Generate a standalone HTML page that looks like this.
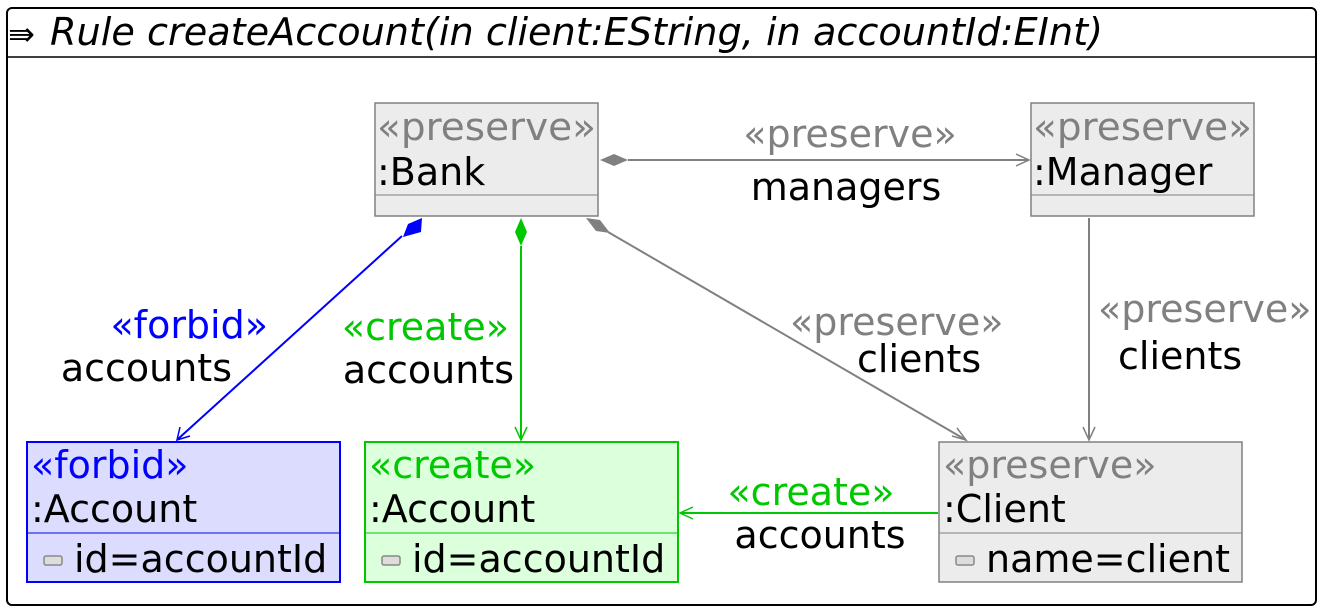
<!DOCTYPE html>
<html><head><meta charset="utf-8"><style>
html,body{margin:0;padding:0;background:#fff;}
svg{display:block;}
text{font-family:"DejaVu Sans","Liberation Sans",sans-serif;font-size:38px;}
.g{fill:#808080}.k{fill:#000}.b{fill:#0000ff}.gr{fill:#00c800}
</style></head><body>
<svg width="1327" height="612" viewBox="0 0 1327 612" xmlns="http://www.w3.org/2000/svg">
<rect x="7" y="8" width="1309" height="597" rx="5" fill="#fff" stroke="#000" stroke-width="2"/>
<line x1="7" y1="57" x2="1316" y2="57" stroke="#000" stroke-width="1.5"/>
<text x="8" y="45" style="font-size:32px">⇛</text>
<text x="50" y="45" font-style="italic" textLength="1053" lengthAdjust="spacingAndGlyphs">Rule createAccount(in client:EString, in accountId:EInt)</text>

<!-- Bank -->
<rect x="375" y="103" width="223" height="113" fill="#ececec" stroke="#808080" stroke-width="1.5"/>
<line x1="375" y1="195" x2="598" y2="195" stroke="#808080"/>
<text x="377" y="140" class="g" textLength="219" lengthAdjust="spacingAndGlyphs">«preserve»</text>
<text x="377" y="185" class="k">:Bank</text>
<!-- Manager -->
<rect x="1031" y="103" width="223" height="113" fill="#ececec" stroke="#808080" stroke-width="1.5"/>
<line x1="1031" y1="195" x2="1254" y2="195" stroke="#808080"/>
<text x="1033" y="140" class="g" textLength="219" lengthAdjust="spacingAndGlyphs">«preserve»</text>
<text x="1033" y="185" class="k">:Manager</text>
<!-- Forbid Account -->
<rect x="27" y="442" width="313" height="140" fill="#dcdcff" stroke="#0000ff" stroke-width="2"/>
<line x1="27" y1="533" x2="340" y2="533" stroke="#0000ff"/>
<text x="31" y="478" class="b">«forbid»</text>
<text x="31" y="522" class="k">:Account</text>
<rect x="44" y="556" width="18" height="9" rx="2" fill="#ddd" stroke="#888" stroke-width="1.5"/>
<text x="74" y="572" class="k">id=accountId</text>
<!-- Create Account -->
<rect x="365" y="442" width="313" height="140" fill="#dcffdc" stroke="#00c800" stroke-width="2"/>
<line x1="365" y1="533" x2="678" y2="533" stroke="#00c800"/>
<text x="369" y="478" class="gr">«create»</text>
<text x="369" y="522" class="k">:Account</text>
<rect x="382" y="556" width="18" height="9" rx="2" fill="#ddd" stroke="#888" stroke-width="1.5"/>
<text x="412" y="572" class="k">id=accountId</text>
<!-- Client -->
<rect x="939" y="442" width="303" height="140" fill="#ececec" stroke="#808080" stroke-width="1.5"/>
<line x1="939" y1="533" x2="1242" y2="533" stroke="#808080"/>
<text x="943" y="478" class="g">«preserve»</text>
<text x="943" y="522" class="k">:Client</text>
<rect x="956" y="556" width="18" height="9" rx="2" fill="#ddd" stroke="#888" stroke-width="1.5"/>
<text x="986" y="572" class="k">name=client</text>

<!-- Bank -> Manager -->
<line x1="628" y1="160" x2="1028" y2="160" stroke="#808080" stroke-width="2"/>
<polygon points="600,160 614,154 628,160 614,166" fill="#808080"/>
<polyline points="1016,154 1029,160 1016,166" fill="none" stroke="#808080" stroke-width="1.5"/>
<text x="850" y="147" class="g" text-anchor="middle">«preserve»</text>
<text x="846" y="200" class="k" text-anchor="middle">managers</text>

<!-- Blue -->
<line x1="402" y1="236" x2="178" y2="439" stroke="#0000ff" stroke-width="2"/>
<polygon points="422,218 421,232 403,237 408,224" fill="#0000ff"/>
<polyline points="180,427 177,440 190,436" fill="none" stroke="#0000ff" stroke-width="1.5"/>
<text x="268" y="338" class="b" text-anchor="end">«forbid»</text>
<text x="232" y="381" class="k" text-anchor="end">accounts</text>

<!-- Green -->
<line x1="521" y1="246" x2="521" y2="439" stroke="#00c800" stroke-width="2"/>
<polygon points="521,218 527,232 521,246 515,232" fill="#00c800"/>
<polyline points="515,427 521,440 527,427" fill="none" stroke="#00c800" stroke-width="1.5"/>
<text x="509" y="340" class="gr" text-anchor="end">«create»</text>
<text x="514" y="383" class="k" text-anchor="end">accounts</text>

<!-- Gray Bank->Client -->
<line x1="608" y1="232" x2="966" y2="440" stroke="#808080" stroke-width="2"/>
<polygon points="586,218 600,220 610,233 596,231" fill="#808080"/>
<polyline points="952,436 966,440 957,428" fill="none" stroke="#808080" stroke-width="1.5"/>
<text x="790" y="335" class="g">«preserve»</text>
<text x="857" y="372" class="k">clients</text>

<!-- Manager -> Client -->
<line x1="1089" y1="218" x2="1089" y2="439" stroke="#808080" stroke-width="2"/>
<polyline points="1083,427 1089,440 1095,427" fill="none" stroke="#808080" stroke-width="1.5"/>
<text x="1098" y="322" class="g">«preserve»</text>
<text x="1118" y="369" class="k">clients</text>

<!-- Client -> create Account -->
<line x1="681" y1="513" x2="938" y2="513" stroke="#00c800" stroke-width="2"/>
<polyline points="693,507 680,513 693,519" fill="none" stroke="#00c800" stroke-width="1.5"/>
<text x="811" y="505" class="gr" text-anchor="middle">«create»</text>
<text x="820" y="548" class="k" text-anchor="middle">accounts</text>
</svg>
</body></html>
